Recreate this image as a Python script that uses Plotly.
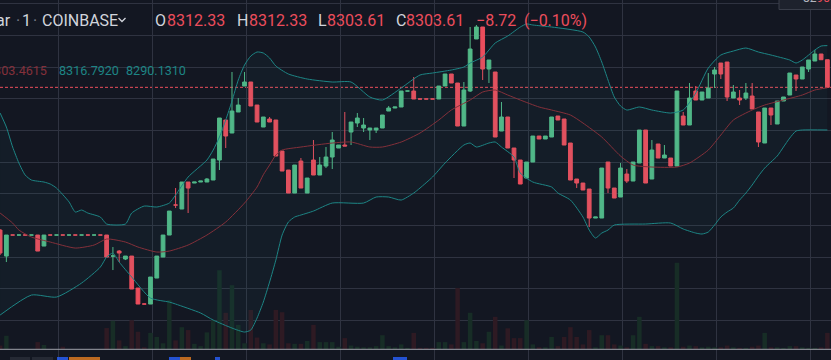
import plotly.graph_objects as go

W, H = 831, 360

# ---------------- data ----------------
idx = list(range(133))

open_ = [8258.52, 8250.30, 8256.95, 8256.94, 8256.95, 8256.94, 8256.94, 8253.46, 8256.95, 8256.94,
         8256.95, 8256.94, 8256.95, 8256.94, 8256.95, 8256.94, 8256.95, 8256.94, 8250.30, 8251.88,
         8249.36, 8250.30, 8240.19, 8235.15, 8235.14, 8243.35, 8249.99, 8256.94, 8266.43, 8265.16,
         8273.69, 8273.37, 8273.69, 8273.69, 8274.32, 8280.64, 8293.28, 8289.17, 8295.81, 8304.02,
         8305.29, 8298.02, 8291.07, 8293.60, 8293.28, 8283.48, 8277.48, 8270.21, 8280.32, 8270.21,
         8280.64, 8275.90, 8278.74, 8281.59, 8284.43, 8285.38, 8289.49, 8292.33, 8290.75, 8290.12,
         8290.12, 8290.75, 8296.12, 8297.07, 8297.39, 8302.44, 8302.44, 8299.93, 8299.93, 8299.93,
         8299.92, 8304.02, 8307.82, 8304.97, 8291.38, 8302.44, 8318.88, 8322.67, 8309.40, 8308.45,
         8289.80, 8294.23, 8284.43, 8280.64, 8274.95, 8280.01, 8288.22, 8287.28, 8287.91, 8294.54,
         8293.60, 8286.01, 8274.64, 8273.37, 8271.48, 8262.31, 8262.31, 8280.01, 8271.79, 8268.95,
         8276.22, 8274.00, 8279.69, 8290.12, 8274.64, 8285.70, 8281.27, 8281.27, 8278.74, 8294.54,
         8291.70, 8302.44, 8299.60, 8300.23, 8307.82, 8311.29, 8311.61, 8300.23, 8300.23, 8300.23,
         8300.86, 8295.81, 8286.01, 8297.07, 8292.02, 8299.28, 8301.18, 8307.50, 8306.24, 8309.40,
         8311.92, 8314.14, 8312.33]

high_ = [8258.84, 8256.94, 8256.95, 8256.95, 8256.95, 8256.95, 8256.94, 8256.94, 8256.95, 8256.95,
         8256.95, 8256.95, 8256.95, 8256.95, 8256.95, 8256.95, 8256.95, 8256.94, 8253.15, 8252.20,
         8250.30, 8250.30, 8240.19, 8235.15, 8243.67, 8250.30, 8256.94, 8264.52, 8271.79, 8273.69,
         8273.69, 8273.69, 8274.00, 8274.95, 8280.96, 8293.91, 8293.28, 8308.45, 8300.23, 8308.45,
         8305.29, 8298.02, 8294.23, 8294.23, 8293.28, 8283.48, 8277.48, 8279.06, 8281.27, 8274.95,
         8286.96, 8281.59, 8284.75, 8289.49, 8285.38, 8295.81, 8292.65, 8295.49, 8293.91, 8290.75,
         8290.75, 8294.86, 8297.70, 8297.39, 8302.44, 8302.45, 8306.87, 8299.93, 8299.93, 8299.93,
         8304.02, 8307.82, 8307.82, 8304.97, 8305.29, 8322.67, 8323.30, 8322.67, 8312.24, 8308.45,
         8298.97, 8294.23, 8284.43, 8280.64, 8280.01, 8288.22, 8288.22, 8288.22, 8294.23, 8294.54,
         8293.60, 8286.01, 8274.64, 8273.37, 8271.48, 8262.63, 8278.11, 8280.01, 8271.79, 8279.69,
         8277.80, 8280.01, 8290.12, 8290.12, 8286.96, 8285.70, 8285.38, 8281.27, 8302.44, 8295.81,
         8304.97, 8304.02, 8302.13, 8308.13, 8310.03, 8311.29, 8311.61, 8304.34, 8302.76, 8304.97,
         8304.97, 8295.81, 8297.07, 8297.07, 8299.28, 8300.55, 8308.13, 8307.50, 8310.03, 8312.24,
         8315.40, 8314.14, 8312.33]

low_ = [8250.62, 8248.41, 8256.94, 8256.94, 8256.94, 8256.94, 8251.88, 8253.46, 8256.94, 8256.94,
        8256.94, 8256.94, 8256.94, 8256.94, 8256.94, 8256.94, 8256.94, 8249.99, 8245.88, 8248.41,
        8249.04, 8239.88, 8235.14, 8235.14, 8235.14, 8243.35, 8249.99, 8256.94, 8265.47, 8265.16,
        8263.89, 8273.37, 8273.69, 8273.69, 8274.32, 8277.48, 8284.43, 8289.17, 8295.81, 8304.02,
        8297.70, 8292.65, 8291.07, 8292.65, 8281.90, 8277.16, 8270.21, 8270.21, 8271.79, 8270.21,
        8275.90, 8275.90, 8278.11, 8277.80, 8284.43, 8285.06, 8285.38, 8291.07, 8289.49, 8286.96,
        8289.17, 8290.75, 8296.12, 8297.07, 8297.39, 8302.44, 8299.92, 8299.92, 8299.92, 8299.92,
        8299.92, 8304.02, 8304.97, 8291.38, 8291.38, 8302.13, 8318.88, 8305.92, 8304.97, 8287.91,
        8289.80, 8284.43, 8274.95, 8273.06, 8274.95, 8280.01, 8287.28, 8287.28, 8287.91, 8293.28,
        8285.38, 8274.32, 8271.79, 8271.16, 8259.47, 8262.31, 8262.31, 8270.21, 8268.63, 8268.95,
        8273.37, 8274.00, 8279.69, 8273.37, 8274.64, 8281.27, 8281.27, 8278.74, 8278.74, 8291.70,
        8291.70, 8299.60, 8299.60, 8300.23, 8303.39, 8306.24, 8299.28, 8300.23, 8298.02, 8299.60,
        8296.76, 8284.75, 8286.01, 8291.70, 8292.02, 8299.28, 8301.18, 8302.44, 8306.24, 8308.45,
        8311.92, 8312.33, 8303.61]

close_ = [8251.25, 8256.94, 8256.94, 8256.95, 8256.94, 8256.95, 8251.88, 8256.94, 8256.94, 8256.95,
          8256.94, 8256.95, 8256.94, 8256.95, 8256.94, 8256.95, 8256.94, 8249.99, 8250.31, 8251.25,
          8250.30, 8239.88, 8235.14, 8235.14, 8243.67, 8250.30, 8256.94, 8264.52, 8266.42, 8273.69,
          8271.79, 8273.69, 8274.00, 8274.64, 8280.96, 8293.91, 8288.22, 8296.12, 8298.02, 8305.29,
          8297.70, 8292.65, 8294.23, 8292.65, 8281.90, 8277.16, 8270.21, 8279.06, 8271.79, 8274.95,
          8275.90, 8279.06, 8281.59, 8286.96, 8285.38, 8285.06, 8292.65, 8293.91, 8291.70, 8290.75,
          8290.75, 8294.86, 8297.07, 8297.39, 8302.44, 8302.45, 8299.92, 8299.92, 8299.92, 8299.92,
          8304.02, 8307.82, 8304.97, 8291.38, 8302.76, 8315.72, 8322.67, 8309.40, 8312.24, 8287.91,
          8294.23, 8284.43, 8280.64, 8273.06, 8280.01, 8288.22, 8287.28, 8288.22, 8294.23, 8293.28,
          8285.38, 8274.32, 8273.37, 8271.16, 8262.31, 8262.63, 8278.11, 8271.79, 8268.63, 8278.11,
          8274.00, 8280.01, 8290.12, 8273.37, 8283.80, 8281.27, 8282.22, 8278.74, 8302.44, 8291.70,
          8300.23, 8299.60, 8302.13, 8303.39, 8309.08, 8307.82, 8300.55, 8302.13, 8299.60, 8301.81,
          8296.76, 8286.33, 8297.07, 8294.86, 8299.28, 8300.55, 8308.13, 8306.24, 8310.03, 8312.24,
          8314.14, 8312.33, 8303.61]

volume = [0.6, 2.3, 0, 0, 0, 0, 1.2, 0.7, 0, 0,
          0.4, 0, 0, 0, 0, 0, 0, 3.65, 4.9, 1.5,
          0.5, 5.0, 3.0, 0.3, 2.8, 2.1, 1.0, 8.5, 1.5, 3.8,
          3.3, 0.9, 0.5, 2.9, 5.0, 13.7, 6.3, 11.1, 4.2, 1.0,
          6.8, 2.0, 1.0, 0.8, 6.8, 6.4, 1.0, 0.9, 0.9, 1.4,
          4.2, 1.2, 1.2, 1.2, 0.4, 1.9, 0.6, 0.4, 0.3, 0.3,
          0.5, 2.4, 0.5, 0.3, 0.8, 0.2, 2.8, 0.2, 0.2, 0.2,
          1.2, 1.2, 0.8, 10.6, 1.2, 6.3, 1.4, 1.0, 3.0, 5.6,
          0.6, 3.6, 1.9, 1.9, 5.0, 0.8, 0.3, 0.3, 2.1, 0.5,
          2.1, 3.8, 2.1, 0.8, 3.3, 0.3, 2.4, 2.4, 0.8, 0.6,
          0.3, 2.4, 5.6, 0.9, 0.5, 0.5, 0.3, 0.3, 15.0, 0.4,
          0.6, 0.5, 0.3, 0.4, 0.3, 0.3, 0.6, 0.3, 0.2, 0.2,
          0.4, 0.6, 2.8, 0.3, 0.3, 0.2, 0.5, 0.5, 0.3, 0.2,
          0.2, 0.3, 2.8]

bb_upper_idx = [0, 1, 2, 3, 4, 5, 7, 8, 9, 11, 12, 13, 14, 16, 17, 20, 21, 23, 25, 27, 28, 30, 33, 34, 35,
                36, 37, 38, 39, 40, 41, 42, 43, 44, 46, 49, 53, 56, 59, 61, 64, 67, 69, 72, 74, 75, 77,
                79, 81, 83, 84, 85, 88, 93, 94, 95, 96, 97, 98, 99, 100, 102, 104, 107, 109, 111, 113,
                115, 117, 119, 121, 123, 126, 127, 128, 130, 131, 132]
bb_upper = [8295.49, 8291.07, 8284.75, 8279.69, 8275.90, 8274.32, 8273.69, 8273.06, 8271.79, 8267.40,
            8264.21, 8264.84, 8263.89, 8262.63, 8260.42, 8260.42, 8263.89, 8266.10, 8265.79, 8267.05,
            8269.58, 8275.27, 8280.64, 8283.80, 8287.91, 8293.28, 8299.28, 8305.92, 8310.66, 8313.50,
            8314.77, 8314.45, 8312.87, 8310.34, 8307.82, 8306.24, 8305.29, 8305.29, 8300.55, 8299.60,
            8303.39, 8307.50, 8308.13, 8309.08, 8310.03, 8311.29, 8313.19, 8317.61, 8319.82, 8322.67,
            8323.62, 8323.30, 8322.67, 8321.09, 8319.51, 8316.35, 8311.61, 8305.92, 8300.55, 8297.70,
            8296.44, 8297.39, 8296.44, 8295.49, 8296.44, 8301.81, 8309.71, 8313.82, 8315.08, 8316.03,
            8314.77, 8313.82, 8312.24, 8311.29, 8312.24, 8315.40, 8316.66, 8316.79]

bb_lower_idx = [0, 5, 9, 13, 16, 17, 18, 19, 21, 24, 27, 28, 32, 34, 37, 39, 40, 41, 42, 43, 44, 45, 46,
                47, 48, 50, 53, 58, 60, 62, 64, 66, 67, 69, 71, 74, 75, 76, 78, 79, 80, 82, 83, 85, 88,
                89, 91, 93, 94, 95, 96, 97, 98, 103, 107, 109, 111, 112, 113, 114, 115, 116, 117, 118,
                119, 120, 121, 122, 123, 124, 125, 126, 127, 128, 132]
bb_lower = [8231.66, 8237.98, 8237.35, 8241.77, 8246.83, 8249.99, 8251.25, 8248.41, 8243.67, 8237.03,
            8235.77, 8235.14, 8232.29, 8230.08, 8227.55, 8226.29, 8226.92, 8230.71, 8235.77, 8242.09,
            8249.04, 8256.94, 8261.05, 8262.63, 8263.26, 8264.52, 8267.05, 8267.05, 8268.95, 8268.95,
            8268.00, 8270.21, 8271.79, 8275.27, 8279.69, 8285.38, 8286.01, 8284.75, 8286.01, 8286.33,
            8284.75, 8281.59, 8276.53, 8273.69, 8272.11, 8270.21, 8268.00, 8262.63, 8258.52, 8255.99,
            8257.57, 8258.52, 8260.10, 8260.42, 8260.73, 8258.84, 8257.57, 8257.26, 8257.89, 8260.10,
            8262.63, 8264.21, 8265.47, 8268.00, 8270.21, 8272.74, 8275.58, 8278.11, 8280.01, 8281.90,
            8284.75, 8287.59, 8289.80, 8290.12, 8290.13]

bb_basis_idx = [0, 2, 3, 5, 8, 12, 15, 17, 20, 22, 25, 27, 30, 33, 36, 39, 41, 42, 43, 44, 45, 48, 53,
                56, 59, 61, 64, 67, 70, 72, 75, 77, 79, 81, 83, 86, 88, 91, 93, 96, 99, 101, 104, 108,
                110, 113, 115, 117, 120, 122, 125, 128, 130, 132]
bb_basis = [8263.89, 8260.73, 8258.52, 8256.31, 8254.73, 8252.83, 8253.78, 8255.68, 8254.73, 8253.15,
            8251.57, 8251.88, 8253.78, 8256.94, 8261.05, 8267.05, 8272.11, 8276.00, 8279.06, 8282.22,
            8283.80, 8284.75, 8286.01, 8286.33, 8284.75, 8284.75, 8286.33, 8289.17, 8293.28, 8296.44,
            8299.60, 8302.13, 8302.76, 8301.18, 8299.60, 8297.39, 8296.44, 8294.86, 8292.33, 8287.91,
            8281.90, 8279.06, 8278.43, 8278.43, 8279.69, 8283.80, 8288.54, 8293.28, 8296.44, 8298.02,
            8299.60, 8301.18, 8302.76, 8303.46]

last_price = 8303.61
price_grid = [8230, 8240, 8250, 8260, 8270, 8280, 8290, 8300, 8310, 8320, 8330]
time_grid = [9.24, 24.24, 39.24, 54.24, 69.24, 84.24, 99.24, 114.24, 129.24]

header_symbol = "ar"
header_interval = "1"
header_exchange = "COINBASE"
ohlc_labels = ["O", "H", "L", "C"]
ohlc_values = ["8312.33", "8312.33", "8303.61", "8303.61"]
change_text = "\u22128.72"
change_pct_text = "(\u22120.10%)"
bb_texts = ["8303.4615", "8316.7920", "8290.1310"]

# ---------------- styles ----------------
BG = "#131722"
GRID = "#2f3341"
UP = "#53b987"
DOWN = "#eb4d5c"
BAND = "#1d8585"
BASIS = "#84303a"
TXT = "#d1d4dc"
VOL_UP = "#172d26"
VOL_DOWN = "#2e1a23"


def px_x(x):
    return x / W


def px_y(y):
    return 1 - y / H


vol_colors = [VOL_UP if c >= o else VOL_DOWN for o, c in zip(open_, close_)]

fig = go.Figure()

fig.add_trace(go.Bar(x=idx, y=volume, marker=dict(color=vol_colors, line=dict(width=0)),
                     width=0.72, xaxis="x", yaxis="y", hoverinfo="skip"))

fig.add_trace(go.Scatter(x=bb_upper_idx, y=bb_upper, mode="lines", xaxis="x", yaxis="y2",
                         line=dict(color=BAND, width=1, shape="spline", smoothing=0.6),
                         hoverinfo="skip"))
fig.add_trace(go.Scatter(x=bb_lower_idx, y=bb_lower, mode="lines", xaxis="x", yaxis="y2",
                         line=dict(color=BAND, width=1, shape="spline", smoothing=0.6),
                         fill="tonexty", fillcolor="rgba(38,150,150,0.05)", hoverinfo="skip"))
fig.add_trace(go.Scatter(x=bb_basis_idx, y=bb_basis, mode="lines", xaxis="x", yaxis="y2",
                         line=dict(color=BASIS, width=1, shape="spline", smoothing=0.6),
                         hoverinfo="skip"))

fig.add_trace(go.Candlestick(x=idx, open=open_, high=high_, low=low_, close=close_,
                             xaxis="x", yaxis="y2", whiskerwidth=0,
                             increasing=dict(line=dict(color=UP, width=1), fillcolor=UP),
                             decreasing=dict(line=dict(color=DOWN, width=1), fillcolor=DOWN),
                             hoverinfo="skip"))

shapes = []
shapes.append(dict(type="line", xref="paper", yref="y2", x0=0, x1=1, y0=last_price, y1=last_price,
                   line=dict(color=DOWN, width=1, dash="3px,2px"), layer="below"))
shapes.append(dict(type="line", xref="paper", yref="paper", x0=0, x1=1, y0=px_y(349.3), y1=px_y(349.3),
                   line=dict(color="#9fa2aa", width=1)))
shapes.append(dict(type="path", xref="paper", yref="paper",
                   path=f"M {px_x(118.5)} {px_y(18.0)} L {px_x(122)} {px_y(21.5)} L {px_x(125.5)} {px_y(18.0)}",
                   line=dict(color=TXT, width=1.3)))
shapes.append(dict(type="rect", xref="paper", yref="paper", x0=px_x(779), x1=px_x(833), y0=px_y(9.5),
                   y1=px_y(-3), fillcolor="#1e222d", line=dict(color="#3a3e4a", width=1)))
for x0, x1, col in [(10, 30, "#2a2e39"), (32, 53, "#2a2e39"), (57, 68, "#2962ff"), (69, 100, "#e67e22"),
                    (169, 180, "#2962ff"), (180, 191, "#e67e22"), (215, 220, "#2962ff"),
                    (393, 407, "#2962ff")]:
    shapes.append(dict(type="rect", xref="paper", yref="paper", x0=px_x(x0), x1=px_x(x1),
                       y0=px_y(360), y1=px_y(357), fillcolor=col, line=dict(width=0), opacity=0.8))

annotations = []


def ann(text, x, y, anchor="left", size=16, color=TXT):
    annotations.append(dict(text=text, x=px_x(x), y=px_y(y), xref="paper", yref="paper",
                            xanchor=anchor, yanchor="middle", showarrow=False,
                            font=dict(family="Roboto", size=size, color=color)))


hy = 20.7
ann(header_symbol, 12.8, hy, anchor="right")
ann("\u00b7", 13.5, hy, color="#787b86")
ann(header_interval, 20.2, hy)
ann("\u00b7", 31, hy, color="#787b86")
ann(header_exchange, 39.5, hy)
ohlc_x = [(153, 165), (235, 246.5), (315.5, 324.5), (393.5, 403.5)]
for (lx, vx), lab, val in zip(ohlc_x, ohlc_labels, ohlc_values):
    ann(lab, lx, hy)
    ann(val, vx, hy, color=DOWN)
ann(change_text, 474, hy, color=DOWN)
ann(change_pct_text, 522, hy, color=DOWN)

by = 70.7
ann(bb_texts[0], 48.5, by, anchor="right", size=12.6, color=BASIS)
ann(bb_texts[1], 56.5, by, size=12.6, color=BAND)
ann(bb_texts[2], 123.5, by, size=12.6, color=BAND)

ann("<span style='color:#b2b5be'>82</span><span style='color:#eb4d5c'>90</span>", 801, -2.5, size=12)

fig.update_layout(
    width=W, height=H, margin=dict(l=0, r=0, t=0, b=0),
    paper_bgcolor=BG, plot_bgcolor=BG, showlegend=False, hovermode=False,
    boxgap=0.25, boxgroupgap=0.2,
    xaxis=dict(range=[-0.016, 132.58], tickvals=time_grid, showticklabels=False, ticks="",
               showgrid=True, gridcolor=GRID, gridwidth=1, zeroline=False, showline=False,
               rangeslider=dict(visible=False), fixedrange=True),
    yaxis=dict(range=[-1.914, 60.73], visible=False, showgrid=False, zeroline=False, fixedrange=True),
    yaxis2=dict(range=[8217.46, 8331.2], overlaying="y", side="right", tickvals=price_grid,
                showticklabels=False, ticks="", showgrid=True, gridcolor=GRID, gridwidth=1,
                zeroline=False, showline=False, fixedrange=True),
    shapes=shapes, annotations=annotations,
)

fig.write_html("out.html", config={"displayModeBar": False, "staticPlot": True},
               post_script="document.body.style.margin='0';document.body.style.background='#131722';")
